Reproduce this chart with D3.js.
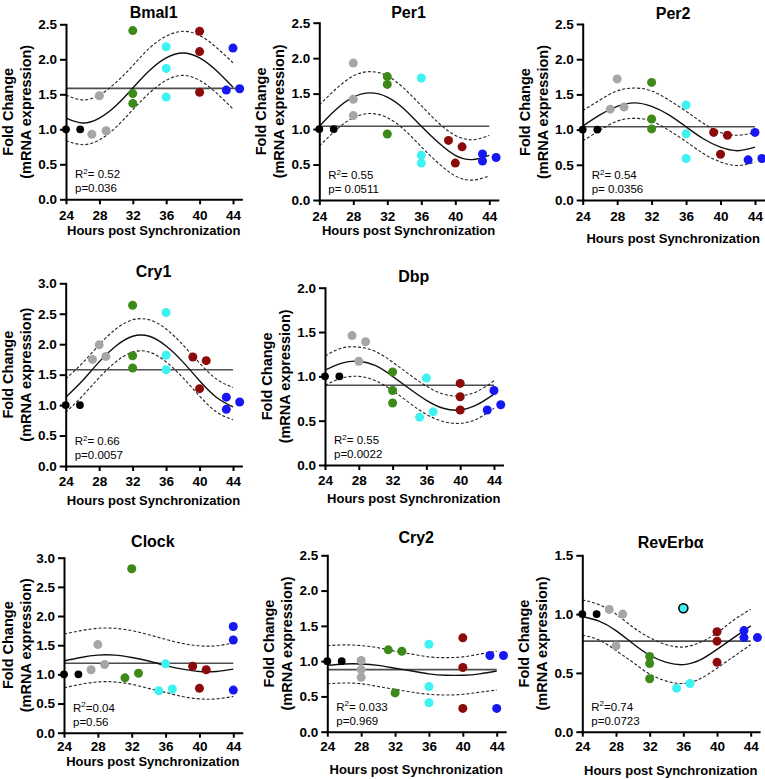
<!DOCTYPE html>
<html><head><meta charset="utf-8">
<script src="https://cdn.jsdelivr.net/npm/d3@7"></script>
<style>
body{margin:0;background:#fff}
svg text{font-family:"Liberation Sans",Arial,Helvetica,sans-serif}
</style>
</head><body>
<svg id="chart" width="765" height="779"></svg>
<script>
// ---------------- DATA ----------------
const genes = ["Bmal1","Per1","Per2","Cry1","Dbp","Clock","Cry2","RevErb\u03b1"];
const yMaxes = [2.5,2.5,2.5,3.0,2.0,3.0,2.5,1.5];
const xTickValues = [24,28,32,36,40,44];
const groupColors = ["#000000","#a6a6a6","#3d8a18","#3ef2f2","#8b0b0b","#1717f2"];
const fitHours = [24,26,28,30,32,34,36,38,40,42,44];

// points: [hour, fold change, group, outlined]
const bmal1Points = [[24,1.00,0],[25.7,1.00,0],[27.1,0.93,1],[28,1.48,1],[28.8,0.98,1],
  [32,2.41,2],[32,1.51,2],[32,1.37,2],[36,2.18,3],[36,1.87,3],[36,1.46,3],
  [40,2.40,4],[40,2.11,4],[40,1.53,4],[43.2,1.56,5],[44,2.16,5],[44.8,1.58,5]];
const per1Points = [[24,1.00,0],[25.7,1.00,0],[28,1.93,1],[28,1.42,1],[28,1.19,1],
  [32,1.74,2],[32,1.63,2],[32,0.93,2],[36,1.72,3],[36,0.63,3],[36,0.52,3],
  [39.2,0.84,4],[40.8,0.75,4],[40,0.52,4],[43.2,0.65,5],[43.2,0.55,5],[44.8,0.60,5]];
const per2Points = [[24,1.00,0],[25.7,1.00,0],[27.2,1.29,1],[28,1.72,1],[28.8,1.32,1],
  [32,1.67,2],[32,1.15,2],[32,1.01,2],[36,1.35,3],[36,0.94,3],[36,0.59,3],
  [39.2,0.96,4],[40.8,0.92,4],[40,0.65,4],[43.2,0.57,5],[44,0.96,5],[44.8,0.59,5]];
const cry1Points = [[24,1.00,0],[25.7,1.00,0],[27.2,1.75,1],[28,1.99,1],[28.8,1.80,1],
  [32,2.64,2],[32,1.81,2],[32,1.61,2],[36,2.52,3],[36,1.82,3],[36,1.58,3],
  [39.2,1.79,4],[40.8,1.73,4],[40,1.27,4],[43.2,1.13,5],[43.2,0.93,5],[44.8,1.05,5]];
const dbpPoints = [[24,1.00,0],[25.7,1.00,0],[27.2,1.46,1],[28,1.17,1],[28.8,1.39,1],
  [32,1.05,2],[32,0.84,2],[32,0.70,2],[35.2,0.54,3],[36,0.98,3],[36.8,0.60,3],
  [40,0.92,4],[40,0.77,4],[40,0.62,4],[43.2,0.62,5],[44,0.84,5],[44.8,0.68,5]];
const clockPoints = [[24,1.00,0],[25.7,1.00,0],[27.2,1.08,1],[28,1.51,1],[28.8,1.17,1],
  [32,2.81,2],[31.2,0.94,2],[32.8,1.02,2],[36,1.18,3],[35.2,0.72,3],[36.8,0.75,3],
  [39.2,1.14,4],[40.8,1.08,4],[40,0.76,4],[44,1.82,5],[44,1.59,5],[44,0.73,5]];
const cry2Points = [[24,1.00,0],[25.7,1.00,0],[28,1.01,1],[28,0.88,1],[28,0.77,1],
  [31.2,1.16,2],[32.8,1.14,2],[32,0.55,2],[36,1.24,3],[36,0.64,3],[36,0.41,3],
  [40,1.33,4],[40,0.91,4],[40,0.33,4],[43.2,1.08,5],[44.8,1.08,5],[44,0.33,5]];
const revErbPoints = [[24,1.00,0],[25.7,1.00,0],[27.2,1.04,1],[28,0.73,1],[28.8,1.00,1],
  [32,0.64,2],[32,0.58,2],[32,0.45,2],[36,1.05,3,1],[35.2,0.37,3],[36.8,0.41,3],
  [40,0.85,4],[40,0.77,4],[40,0.59,4],[43.2,0.86,5],[43.2,0.80,5],[44.8,0.80,5]];

// fitted curve and confidence band, read at fitHours
const bmal1Fit   = [1.16,1.09,1.16,1.34,1.59,1.84,2.02,2.09,2.02,1.84,1.60];
const bmal1Upper = [1.49,1.42,1.49,1.67,1.91,2.16,2.33,2.40,2.34,2.17,1.95];
const bmal1Lower = [0.84,0.78,0.85,1.03,1.28,1.52,1.70,1.77,1.70,1.52,1.29];
const per1Fit    = [1.04,1.28,1.45,1.51,1.45,1.28,1.04,0.81,0.63,0.57,0.63];
const per1Upper  = [1.34,1.57,1.75,1.81,1.75,1.57,1.33,1.09,0.91,0.85,0.91];
const per1Lower  = [0.76,0.99,1.16,1.22,1.16,0.99,0.75,0.52,0.34,0.28,0.34];
const per2Fit    = [1.05,1.21,1.33,1.38,1.33,1.21,1.04,0.87,0.75,0.70,0.75];
const per2Upper  = [1.27,1.42,1.55,1.59,1.55,1.42,1.26,1.09,0.96,0.92,0.96];
const per2Lower  = [0.84,0.99,1.12,1.16,1.12,0.99,0.83,0.66,0.54,0.49,0.54];
const cry1Fit    = [1.13,1.40,1.71,1.97,2.13,2.13,1.97,1.71,1.40,1.13,0.97];
const cry1Upper  = [1.43,1.69,1.99,2.25,2.40,2.40,2.25,1.99,1.69,1.43,1.29];
const cry1Lower  = [0.88,1.15,1.45,1.71,1.87,1.87,1.71,1.45,1.15,0.89,0.76];
const dbpFit     = [1.07,1.15,1.17,1.12,1.00,0.86,0.73,0.64,0.62,0.68,0.80];
const dbpUpper   = [1.23,1.32,1.33,1.28,1.16,1.02,0.89,0.80,0.78,0.83,0.95];
const dbpLower   = [0.90,0.98,1.00,0.95,0.84,0.70,0.57,0.49,0.47,0.52,0.64];
const clockFit   = [1.23,1.29,1.33,1.33,1.29,1.23,1.15,1.09,1.05,1.05,1.09];
const clockUpper = [1.69,1.75,1.79,1.79,1.75,1.68,1.60,1.53,1.49,1.49,1.54];
const clockLower = [0.77,0.83,0.87,0.87,0.83,0.76,0.69,0.62,0.58,0.58,0.62];
const cry2Fit    = [0.94,0.96,0.96,0.94,0.90,0.86,0.82,0.80,0.80,0.82,0.86];
const cry2Upper  = [1.22,1.23,1.22,1.19,1.14,1.10,1.06,1.05,1.06,1.10,1.14];
const cry2Lower  = [0.68,0.69,0.68,0.64,0.60,0.56,0.53,0.52,0.53,0.56,0.59];
const revErbFit  = [0.98,0.94,0.86,0.75,0.65,0.59,0.57,0.61,0.70,0.80,0.90];
const revErbUpper= [1.12,1.08,1.00,0.89,0.80,0.74,0.72,0.76,0.84,0.95,1.04];
const revErbLower= [0.82,0.78,0.69,0.59,0.49,0.43,0.41,0.45,0.54,0.64,0.74];

const meanLevels = [1.585,1.04,1.04,1.58,0.90,1.19,0.88,0.77];
const r2Labels = ["= 0.52","= 0.55","= 0.54","= 0.66","= 0.55","=0.04","= 0.033","=0.74"];
const pLabels  = ["p=0.036","p= 0.0511","p= 0.0356","p=0.0057","p=0.0022","p=0.56","p=0.969","p=0.0723"];

const pointSets = [bmal1Points,per1Points,per2Points,cry1Points,dbpPoints,clockPoints,cry2Points,revErbPoints];
const fitSets   = [bmal1Fit,per1Fit,per2Fit,cry1Fit,dbpFit,clockFit,cry2Fit,revErbFit];
const upperSets = [bmal1Upper,per1Upper,per2Upper,cry1Upper,dbpUpper,clockUpper,cry2Upper,revErbUpper];
const lowerSets = [bmal1Lower,per1Lower,per2Lower,cry1Lower,dbpLower,clockLower,cry2Lower,revErbLower];

// ---------------- LAYOUT ----------------
// [x of hour 24, x of hour 44, y of top, y of 0, title baseline, x-title baseline, mean line end hour, x tick padding]
const layout = [
  [66, 233, 24.3, 199.3, 18, 235, 44.8, 6],
  [319.3, 489.3, 22.7, 200, 18, 235, 44, 6],
  [582.7, 755, 24, 200, 19, 243, 44, 6],
  [65.7, 233, 283.3, 466, 277, 505, 44, 5],
  [325, 494, 287.7, 465, 282, 503, 44, 5],
  [64, 233.3, 557.7, 732.7, 547, 766, 44, 3.5],
  [327.3, 496.7, 555.3, 731.7, 543, 774, 44, 5],
  [582.3, 750.7, 555.3, 731.7, 548, 775, 44, 5]
];

const svg = d3.select("#chart");

genes.forEach((gene, i) => {
  const L = layout[i];
  const pxh = (L[1] - L[0]) / 20;
  const x = d3.scaleLinear().domain([24, 45]).range([L[0], L[0] + 21 * pxh]);
  const y = d3.scaleLinear().domain([0, yMaxes[i]]).range([L[3], L[2]]);
  const g = svg.append("g");

  // mean horizontal line
  g.append("line")
    .attr("x1", x(24)).attr("x2", x(L[6]))
    .attr("y1", y(meanLevels[i])).attr("y2", y(meanLevels[i]))
    .attr("stroke", "#4d4d4d").attr("stroke-width", 1.6);

  const line = d3.line().x((d, k) => x(fitHours[k])).y(d => y(d)).curve(d3.curveNatural);
  g.append("path").attr("d", line(upperSets[i])).attr("fill", "none")
    .attr("stroke", "#222").attr("stroke-width", 1.1).attr("stroke-dasharray", "3,2");
  g.append("path").attr("d", line(lowerSets[i])).attr("fill", "none")
    .attr("stroke", "#222").attr("stroke-width", 1.1).attr("stroke-dasharray", "3,2");
  g.append("path").attr("d", line(fitSets[i])).attr("fill", "none")
    .attr("stroke", "#111").attr("stroke-width", 1.4);

  // axes
  const yTicks = d3.range(0, yMaxes[i] + 0.001, 0.5);
  const ya = g.append("g").attr("transform", `translate(${L[0]},0)`)
    .call(d3.axisLeft(y).tickValues(yTicks).tickFormat(d3.format(".1f"))
      .tickSize(6).tickPadding(3).tickSizeOuter(0));
  const xa = g.append("g").attr("transform", `translate(0,${L[3]})`)
    .call(d3.axisBottom(x).tickValues(xTickValues).tickFormat(d3.format("d"))
      .tickSize(5).tickPadding(L[7]).tickSizeOuter(0));
  [ya, xa].forEach(a => {
    a.attr("font-size", null).attr("font-family", null);
    a.select(".domain").attr("stroke", "#000").attr("stroke-width", 2).attr("stroke-linecap", "square");
    a.selectAll(".tick line").attr("stroke", "#000").attr("stroke-width", 2);
    a.selectAll(".tick text").attr("fill", "#000")
      .style("font-size", "13.5px").style("font-weight", "bold");
  });

  // points
  g.append("g").selectAll("circle").data(pointSets[i]).join("circle")
    .attr("cx", d => x(d[0])).attr("cy", d => y(d[1]))
    .attr("r", d => d[2] === 0 ? 3.9 : 4.5)
    .attr("fill", d => groupColors[d[2]])
    .attr("stroke", d => d[3] ? "#000" : "none")
    .attr("stroke-width", d => d[3] ? 1.6 : 0);

  // title
  const cx = (L[0] + x(45)) / 2;
  g.append("text").attr("x", cx).attr("y", L[4]).attr("text-anchor", "middle")
    .style("font-size", "16px").style("font-weight", "bold").text(gene);

  // x-axis title
  g.append("text").attr("x", cx).attr("y", L[5]).attr("text-anchor", "middle")
    .style("font-size", "13px").style("font-weight", "bold").text("Hours post Synchronization");

  // y-axis title
  const my = (L[2] + L[3]) / 2;
  const lx = Math.max(L[0] - 53, 13);
  g.append("text").attr("transform", `translate(${lx},${my}) rotate(-90)`)
    .attr("text-anchor", "middle").style("font-size", "14.5px").style("font-weight", "bold").text("Fold Change");
  g.append("text").attr("transform", `translate(${lx + 18},${my}) rotate(-90)`)
    .attr("text-anchor", "middle").style("font-size", "14.5px").style("font-weight", "bold").text("(mRNA expression)");

  // stats
  const st = g.append("text").attr("x", L[0] + 9).attr("y", L[3] - 21).style("font-size", "11.5px");
  st.append("tspan").text("R");
  st.append("tspan").style("font-size", "8px").attr("dy", -4.5).text("2");
  st.append("tspan").attr("dy", 4.5).text(r2Labels[i]);
  g.append("text").attr("x", L[0] + 9).attr("y", L[3] - 7).style("font-size", "11.5px").text(pLabels[i]);
});
</script>
</body></html>
